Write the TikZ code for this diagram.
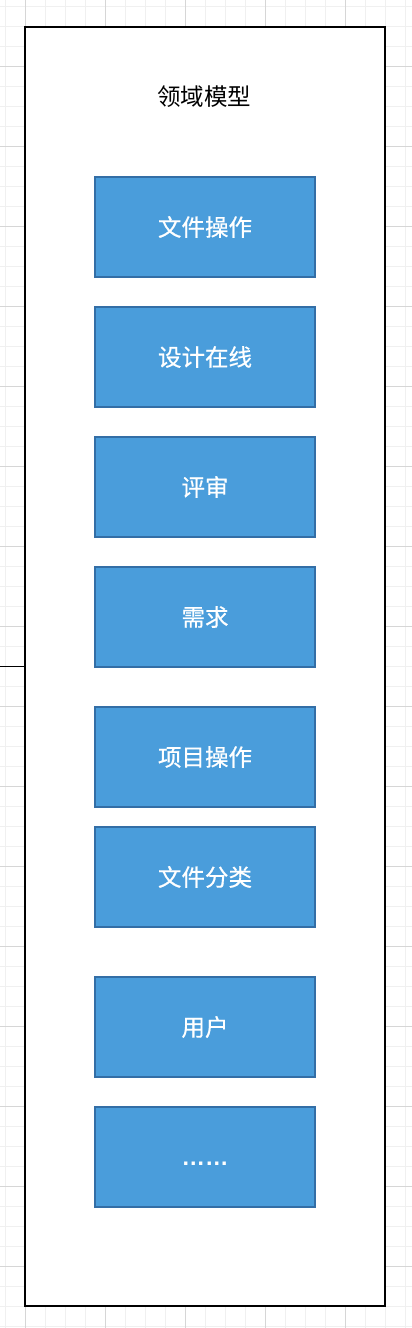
\documentclass[tikz,border=0pt]{standalone}
\usepackage{fontspec}
\newfontfamily\cjkfont{Noto Sans CJK SC}
\newfontfamily\cjkboldish[FakeBold=0.6]{Noto Sans CJK SC}
\newfontfamily\latinsans{Liberation Sans}
\definecolor{boxfill}{HTML}{4A9DDB}
\definecolor{boxline}{HTML}{336EA6}
\definecolor{gridminor}{HTML}{F0F0F0}
\definecolor{gridmajor}{HTML}{D6D6D6}
\begin{document}
\begin{tikzpicture}[x=1pt,y=-1pt,
  outerbox/.style={draw=black,fill=white,line width=2pt,minimum width=360pt,minimum height=1279pt,inner sep=0pt,outer sep=0pt},
  modelbox/.style={draw=boxline,fill=boxfill,line width=1.5pt,minimum width=220pt,minimum height=100pt,inner sep=0pt,outer sep=0pt,text=white,font=\cjkboldish\fontsize{23.5}{28}\selectfont},
  titletext/.style={text=black,font=\cjkfont\fontsize{23.5}{28}\selectfont,inner sep=0pt}]
\useasboundingbox (0,0) rectangle (412,1328);
\fill[white] (0,0) rectangle (412,1328);
% grid
\foreach \gx in {5,25,...,405} {\draw[gridminor,line width=1pt] (\gx,0) -- (\gx,1328);}
\foreach \gy in {6,26,...,1326} {\draw[gridminor,line width=1pt] (0,\gy) -- (412,\gy);}
\foreach \gx in {25,105,...,345} {\draw[gridmajor,line width=1pt] (\gx,0) -- (\gx,1328);}
\foreach \gy in {66,146,...,1266} {\draw[gridmajor,line width=1pt] (0,\gy) -- (412,\gy);}
% container
\node[outerbox] (outer) at (205,666.5) {};
\node[titletext] (title) at (204,97) {领域模型};
\node[modelbox] (b1) at (205,227) {文件操作};
\node[modelbox] (b2) at (205,357) {设计在线};
\node[modelbox] (b3) at (205,487) {评审};
\node[modelbox] (b4) at (205,617) {需求};
\node[modelbox] (b5) at (205,757) {项目操作};
\node[modelbox] (b6) at (205,877) {文件分类};
\node[modelbox] (b7) at (205,1027) {用户};
\node[modelbox] (b8) at (205,1157) {};
\node[text=white,inner sep=0pt,font=\latinsans\bfseries\fontsize{23.5}{28}\selectfont] (dots) at ([yshift=-7pt]b8.center) {……};
% incoming connector
\coordinate (leftend) at (0,666.5);
\draw[black,line width=1.5pt] (leftend) -- (outer.west);
\end{tikzpicture}
\end{document}
